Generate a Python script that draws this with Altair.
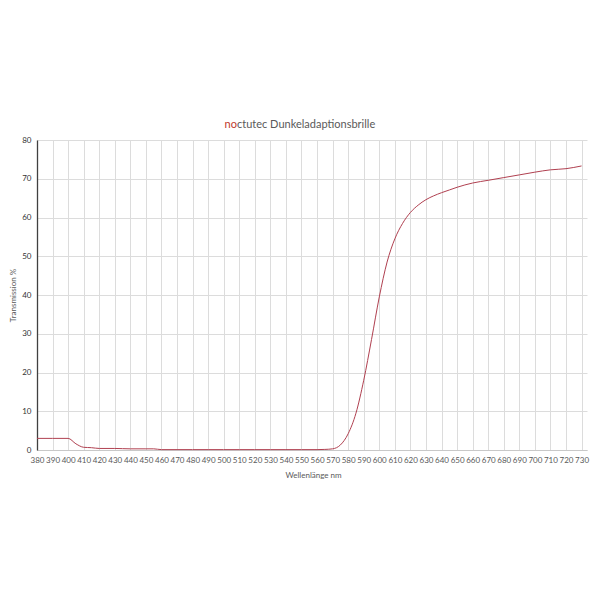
import altair as alt
import pandas as pd

wavelength = [380, 390, 400, 405, 410, 415, 420, 430, 440, 450, 455, 460, 470, 480, 490, 500,
              510, 520, 530, 540, 550, 560, 565, 570, 575, 580, 585, 590, 595, 600, 605, 610,
              615, 620, 625, 630, 635, 640, 645, 650, 660, 670, 680, 690, 700, 710, 720, 730]
transmission = [3.0, 3.0, 3.0, 1.6, 0.7, 0.6, 0.4, 0.4, 0.3, 0.3, 0.3, 0.1, 0.1, 0.1, 0.1, 0.1,
                0.1, 0.1, 0.1, 0.1, 0.1, 0.1, 0.15, 0.3, 1.3, 4.2, 9.5, 18.0, 28.5, 39.5, 48.5, 54.5,
                58.5, 61.3, 63.2, 64.6, 65.6, 66.4, 67.1, 67.8, 68.9, 69.6, 70.3, 71.0, 71.7, 72.3, 72.6, 73.3]
x_ticks = list(range(380, 731, 10))
y_ticks = list(range(0, 81, 10))
title_red = "no"
title_rest = "ctutec Dunkeladaptionsbrille"

df = pd.DataFrame({"wl": wavelength, "t": transmission})

W, H = 550, 310
FONT = "Lato"
GRAY = "#595959"

base = alt.Chart(df)

line = base.mark_line(color="#b04050", strokeWidth=1, interpolate="monotone").encode(
    x=alt.X("wl:Q", scale=alt.Scale(domain=[380, 733.5], nice=False, zero=False),
            axis=alt.Axis(values=x_ticks, labelOverlap=False, labelFlush=False, title="Wellenlänge nm",
                          grid=True, gridColor="#dcdcdc", ticks=False, domainColor="#c8c8c8",
                          labelColor=GRAY, labelFontSize=8, labelFont=FONT, labelPadding=6,
                          titleColor=GRAY, titleFontSize=8, titleFont=FONT, titleFontWeight="normal",
                          titlePadding=7, titleAnchor="middle", titleX=276)),
    y=alt.Y("t:Q", scale=alt.Scale(domain=[0, 80], nice=False),
            axis=alt.Axis(values=y_ticks, title="Transmission %", grid=True, gridColor="#dcdcdc",
                          ticks=False, domainColor="#404040", domainWidth=1.3, labelFlush=False,
                          labelColor="#333333", labelFontSize=8, labelFont=FONT, labelPadding=6,
                          titleColor=GRAY, titleFontSize=8, titleFont=FONT, titleFontWeight="normal",
                          titlePadding=4)),
)

t_red = alt.Chart(pd.DataFrame({"s": [title_red]})).mark_text(
    align="right", baseline="middle", font=FONT, fontSize=11, color="#c0392b"
).encode(x=alt.value(200), y=alt.value(-15), text="s:N")

t_rest = alt.Chart(pd.DataFrame({"s": [title_rest]})).mark_text(
    align="left", baseline="middle", font=FONT, fontSize=11, color=GRAY
).encode(x=alt.value(200), y=alt.value(-15), text="s:N")

chart = alt.layer(line, t_red, t_rest).properties(
    width=W, height=H,
    autosize=alt.AutoSizeParams(type="none"),
    padding={"left": 29, "top": 132, "right": 5, "bottom": 140},
).configure_view(stroke=None)

chart.save("out.html", embed_options={"renderer": "svg", "actions": False})
